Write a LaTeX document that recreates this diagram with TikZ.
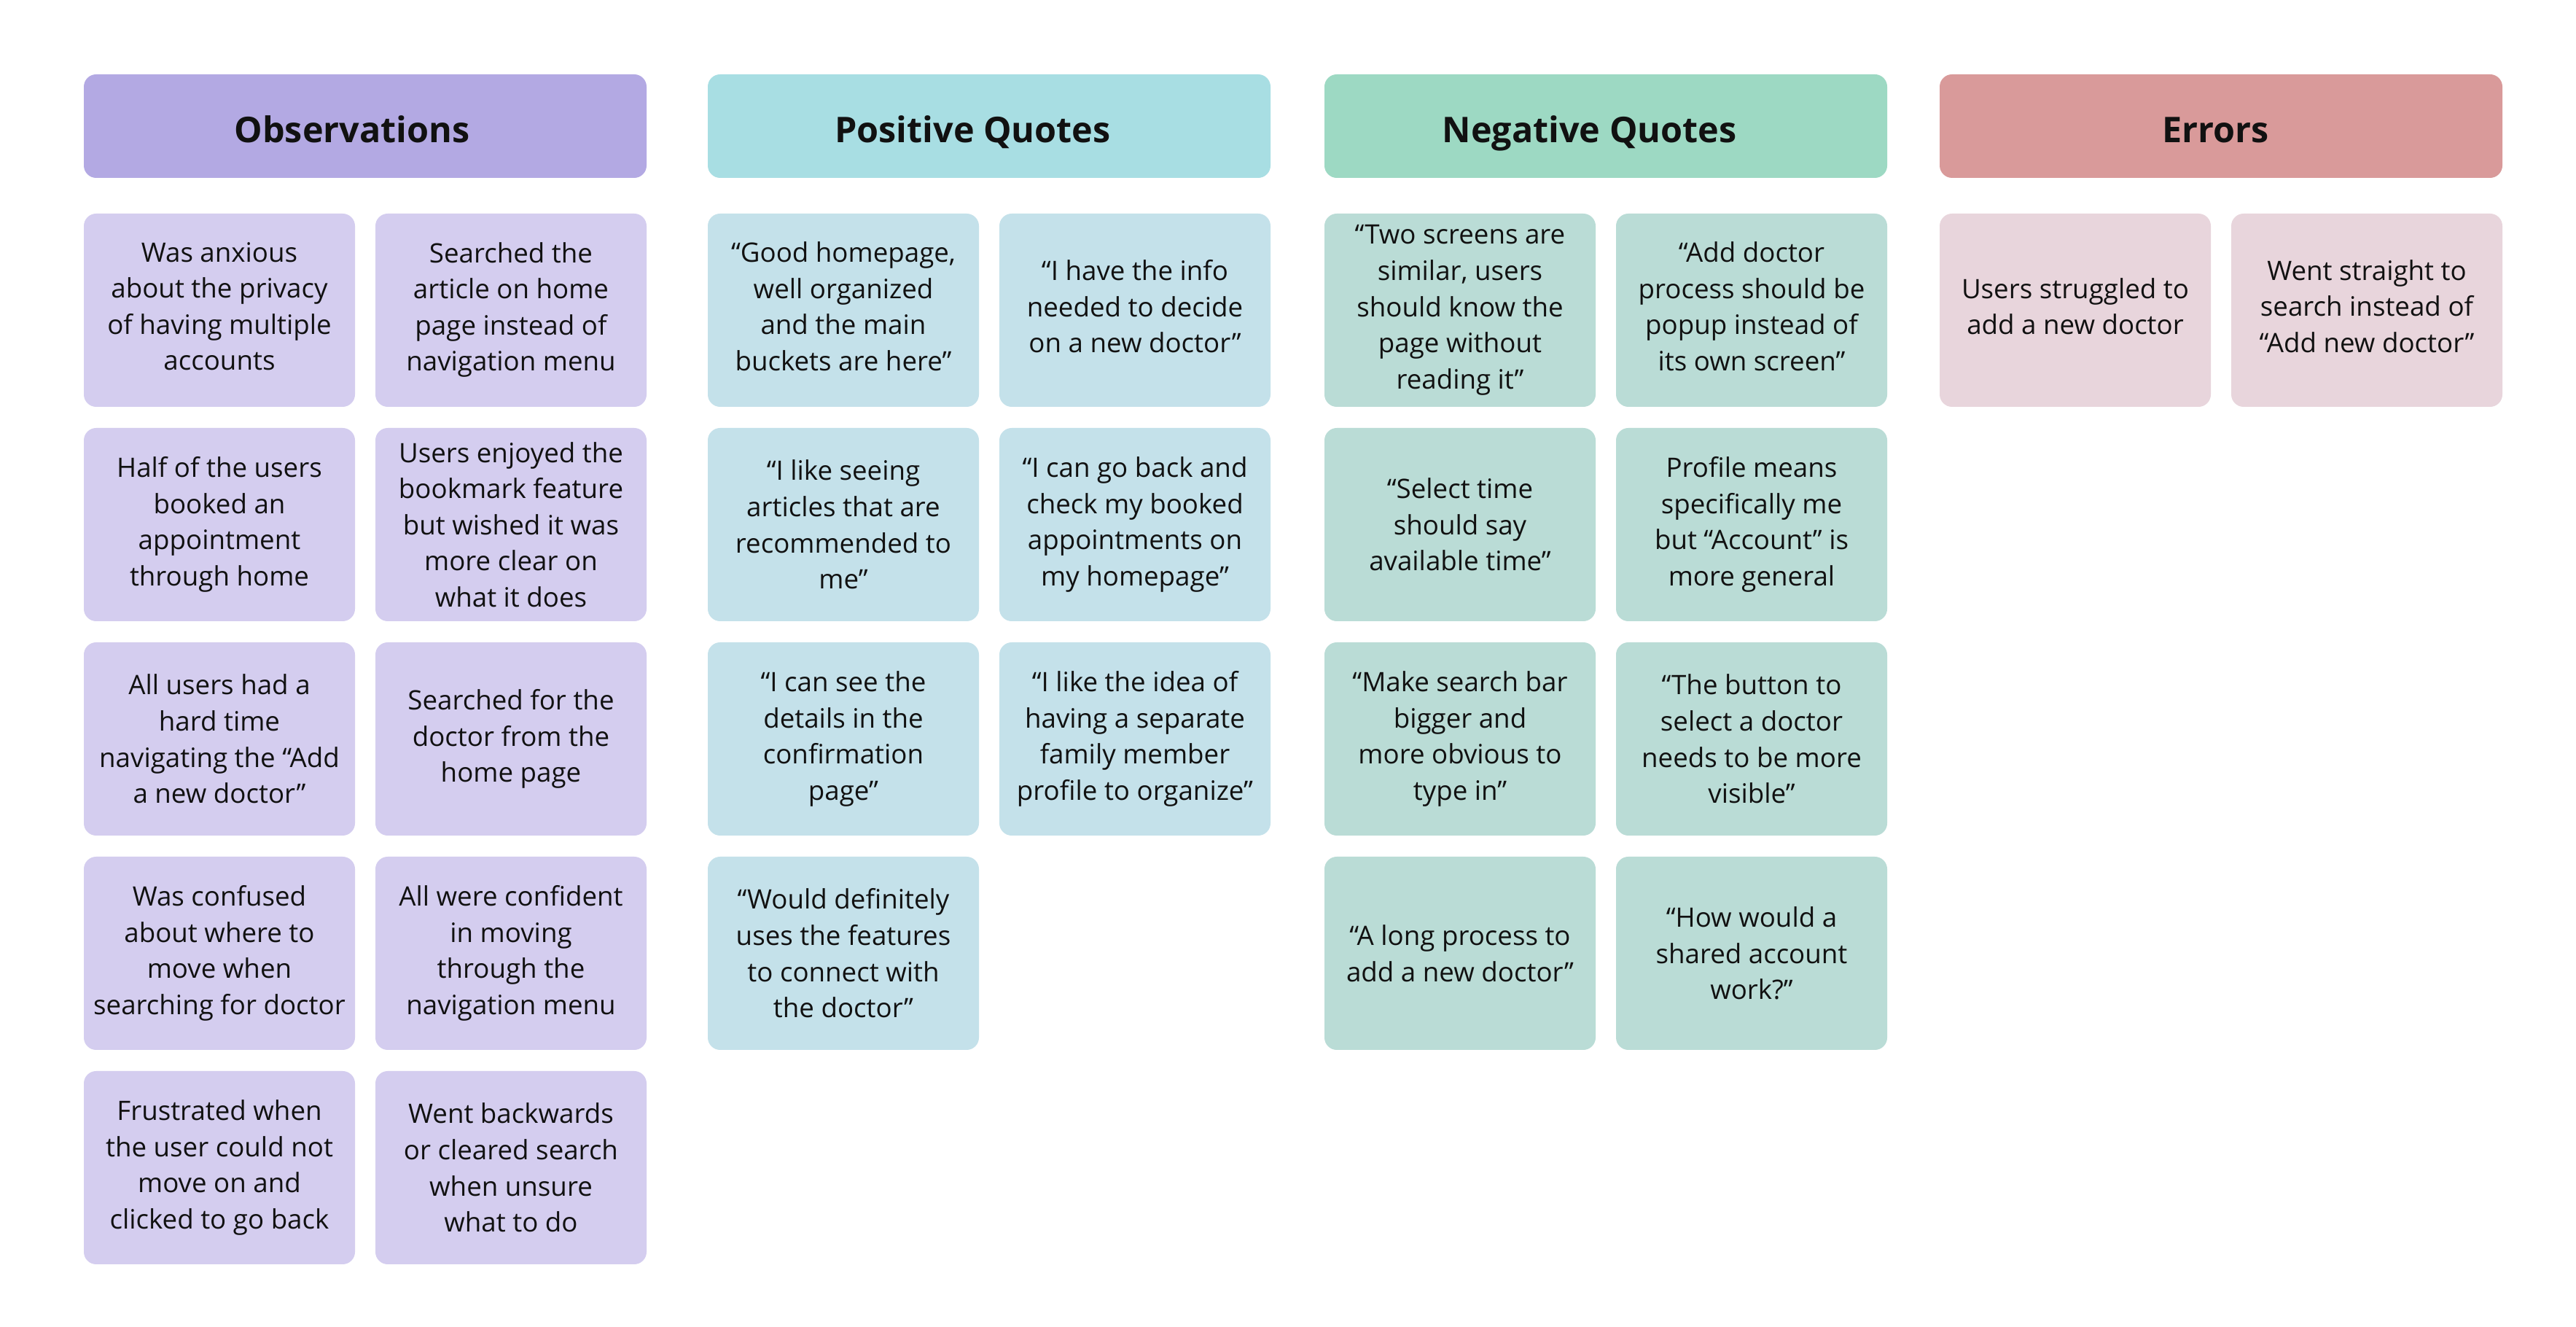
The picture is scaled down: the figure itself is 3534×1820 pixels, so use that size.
\documentclass[tikz,border=0pt]{standalone}
\usepackage{fontspec}
\setmainfont{Open Sans}
\definecolor{obsH}{HTML}{B3A9E3}
\definecolor{obsC}{HTML}{D4CDEF}
\definecolor{posH}{HTML}{A8DEE3}
\definecolor{posC}{HTML}{C4E1EA}
\definecolor{negH}{HTML}{9DD9C3}
\definecolor{negC}{HTML}{BADCD6}
\definecolor{errH}{HTML}{D99A9A}
\definecolor{errC}{HTML}{E8D5DC}
\definecolor{ink}{HTML}{111111}
\begin{document}
\begin{tikzpicture}[x=0.2pt,y=-0.2pt,
  hdr/.style={anchor=north west, inner sep=0pt, minimum width=154.4pt, minimum height=28.4pt,
    text height=9.2pt, text depth=0pt,
    rounded corners=3.4pt, text=ink, font=\fontsize{9.7pt}{12pt}\selectfont\bfseries},
  card/.style={anchor=north west, inner sep=0pt, minimum width=74.4pt, minimum height=53pt,
    rounded corners=3.4pt, align=center, text=ink, font=\fontsize{7.34pt}{9.92pt}\selectfont},
  up/.style={text depth=#1}]
\useasboundingbox[fill=white] (0,0) rectangle (3534,1820);
% headers
\node[hdr, fill=obsH] (hobs) at (114,101) {Observations\kern7.2pt};
\node[hdr, fill=posH] (hpos) at (970,101) {Positive Quotes\kern9pt};
\node[hdr, fill=negH] (hneg) at (1816,101) {Negative Quotes\kern9pt};
\node[hdr, fill=errH] (herr) at (2660,101) {Errors\kern3pt};
% Observations
\node[card, fill=obsC, up=2.2pt] (o11) at (114,292) {Was anxious\\about the privacy\\of having multiple\\accounts};
\node[card, fill=obsC, up=2.0pt] (o12) at (514,292) {Searched the\\article on home\\page instead of\\navigation menu};
\node[card, fill=obsC] (o21) at (114,586) {Half of the users\\booked an\\appointment\\through home};
\node[card, fill=obsC] (o22) at (514,586) {Users enjoyed the\\bookmark feature\\but wished it was\\more clear on\\what it does};
\node[card, fill=obsC] (o31) at (114,880) {All users had a\\hard time\\navigating the “Add\\a new doctor”};
\node[card, fill=obsC] (o32) at (514,880) {Searched for the\\doctor from the\\home page};
\node[card, fill=obsC] (o41) at (114,1174) {Was confused\\about where to\\move when\\searching for doctor};
\node[card, fill=obsC] (o42) at (514,1174) {All were confident\\in moving\\through the\\navigation menu};
\node[card, fill=obsC] (o51) at (114,1468) {Frustrated when\\the user could not\\move on and\\clicked to go back};
\node[card, fill=obsC] (o52) at (514,1468) {Went backwards\\or cleared search\\when unsure\\what to do};
% Positive
\node[card, fill=posC, up=2.2pt] (p11) at (970,292) {“Good homepage,\\well organized\\and the main\\buckets are here”};
\node[card, fill=posC, up=2.2pt] (p12) at (1370,292) {“I have the info\\needed to decide\\on a new doctor”};
\node[card, fill=posC] (p21) at (970,586) {“I like seeing\\articles that are\\recommended to\\me”};
\node[card, fill=posC] (p22) at (1370,586) {“I can go back and\\check my booked\\appointments on\\my homepage”};
\node[card, fill=posC] (p31) at (970,880) {“I can see the\\details in the\\confirmation\\page”};
\node[card, fill=posC] (p32) at (1370,880) {“I like the idea of\\having a separate\\family member\\profile to organize”};
\node[card, fill=posC] (p41) at (970,1174) {“Would definitely\\uses the features\\to connect with\\the doctor”};
% Negative
\node[card, fill=negC] (n11) at (1816,292) {“Two screens are\\similar, users\\should know the\\page without\\reading it”};
\node[card, fill=negC, up=2.2pt] (n12) at (2216,292) {“Add doctor\\process should be\\popup instead of\\its own screen”};
\node[card, fill=negC] (n21) at (1816,586) {“Select time\\should say\\available time”};
\node[card, fill=negC] (n22) at (2216,586) {Profile means\\specifically me\\but “Account” is\\more general};
\node[card, fill=negC] (n31) at (1816,880) {“Make search bar\\bigger and\\more obvious to\\type in”};
\node[card, fill=negC] (n32) at (2216,880) {“The button to\\select a doctor\\needs to be more\\visible”};
\node[card, fill=negC] (n41) at (1816,1174) {“A long process to\\add a new doctor”};
\node[card, fill=negC] (n42) at (2216,1174) {“How would a\\shared account\\work?”};
% Errors
\node[card, fill=errC, up=2.2pt] (e11) at (2660,292) {Users struggled to\\add a new doctor};
\node[card, fill=errC, up=2.2pt] (e12) at (3060,292) {Went straight to\\search instead of\\“Add new doctor”};
\end{tikzpicture}
\end{document}
